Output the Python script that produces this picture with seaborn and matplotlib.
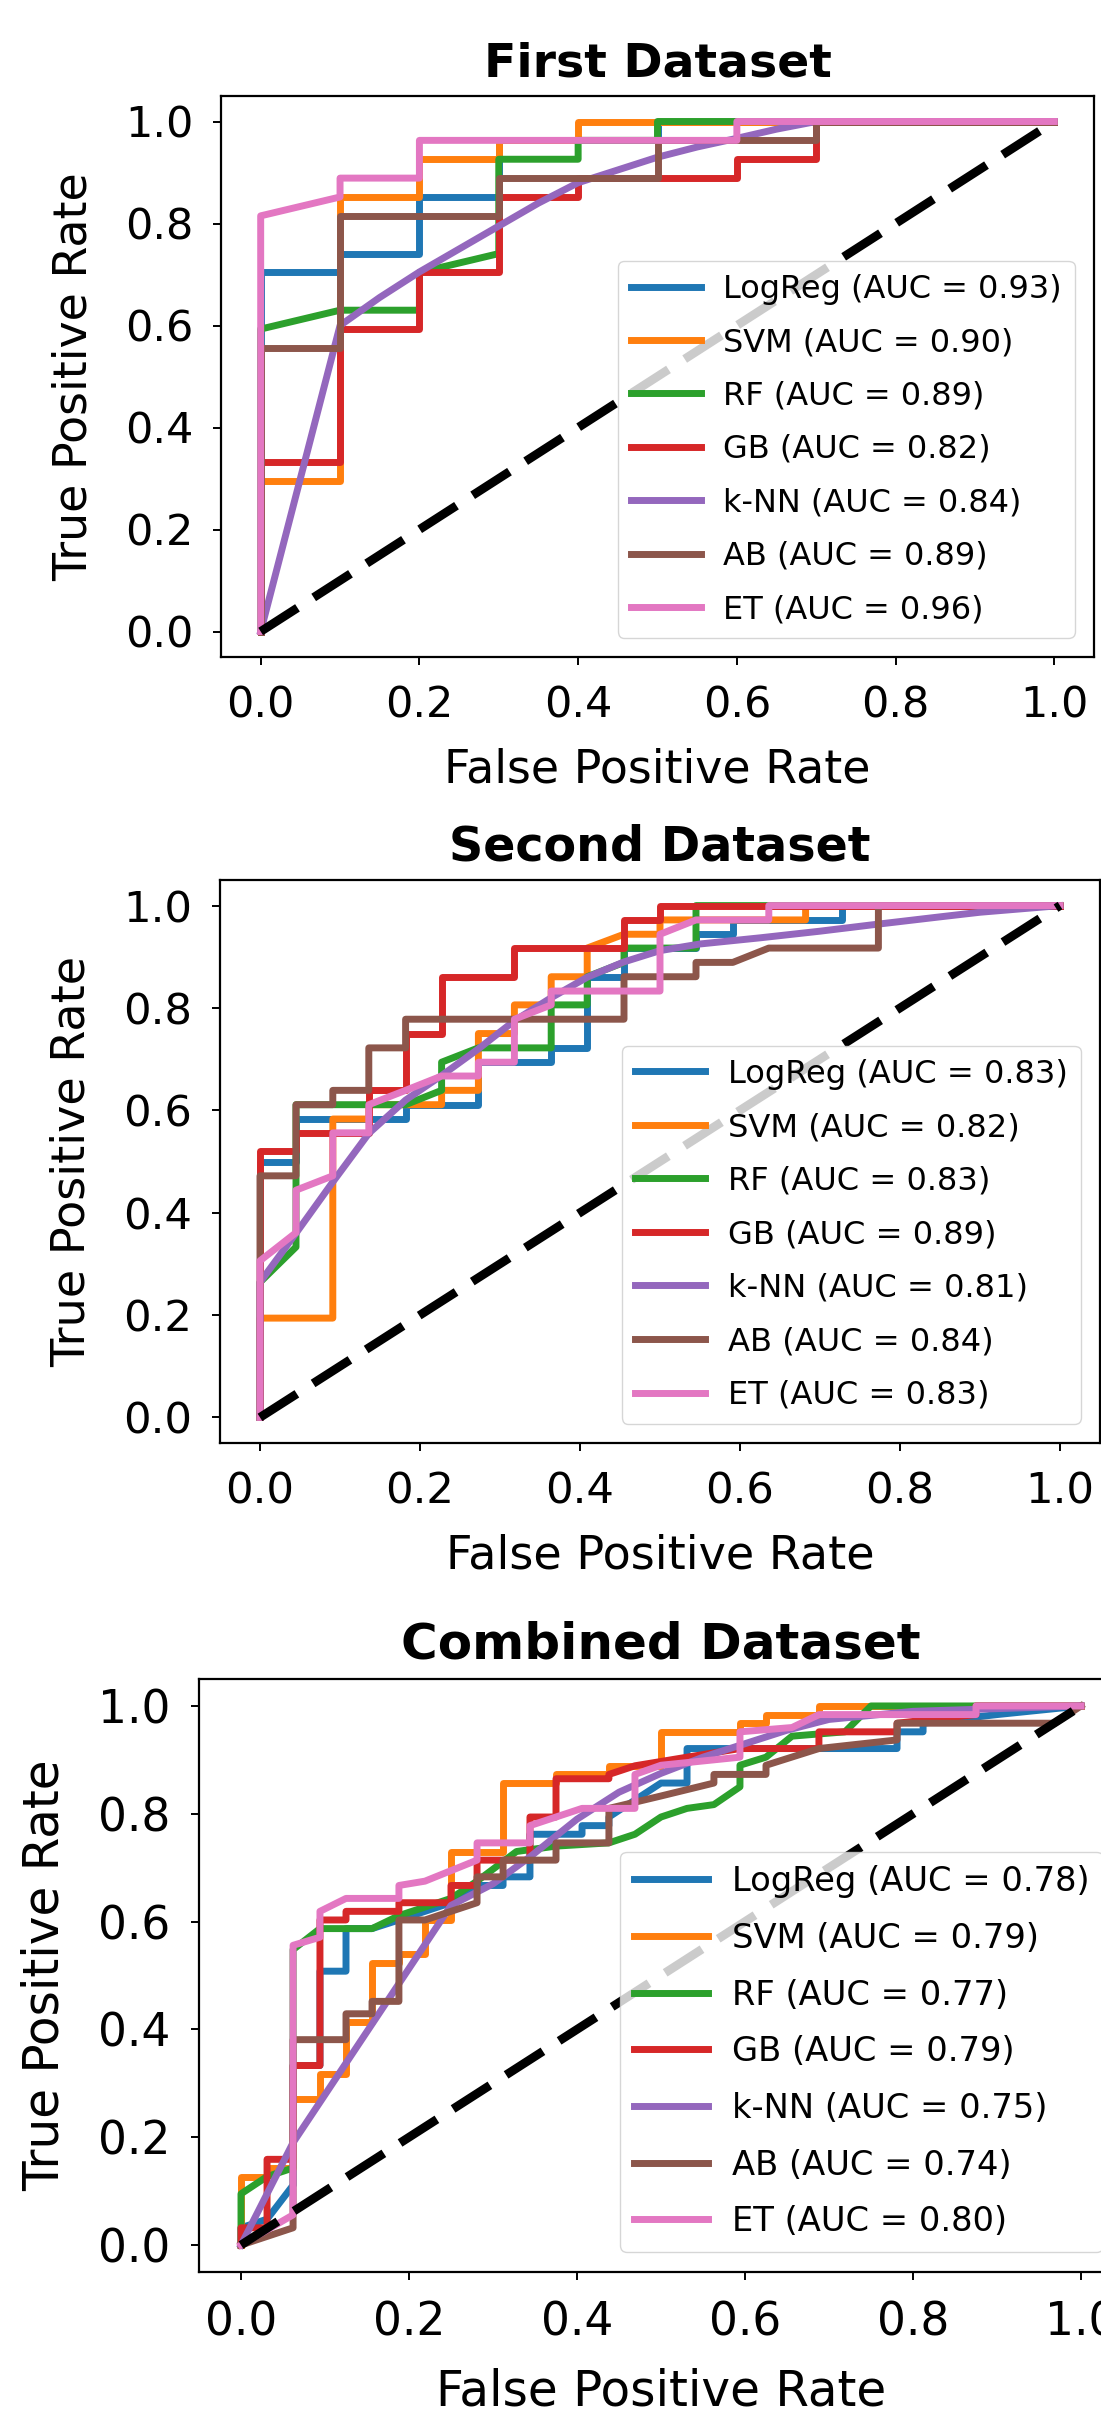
import matplotlib
matplotlib.use("Agg")
import matplotlib.pyplot as plt
import seaborn as sns
import pandas as pd

models = ["LogReg", "SVM", "RF", "GB", "k-NN", "AB", "ET"]
titles = ["First Dataset", "Second Dataset", "Combined Dataset"]

auc_first = [0.93, 0.90, 0.89, 0.82, 0.84, 0.89, 0.96]
auc_second = [0.83, 0.82, 0.83, 0.89, 0.81, 0.84, 0.83]
auc_combined = [0.78, 0.79, 0.77, 0.79, 0.75, 0.74, 0.80]

# (fpr, tpr)
first_curves = {
    "LogReg": ([0, 0, 0.1, 0.1, 0.2, 0.2, 0.3, 0.3, 0.5, 0.5, 1],
               [0, 0.704, 0.704, 0.741, 0.741, 0.852, 0.852, 0.963, 0.963, 1, 1]),
    "SVM": ([0, 0, 0.1, 0.1, 0.2, 0.2, 0.3, 0.3, 0.4, 0.4, 1],
            [0, 0.296, 0.296, 0.852, 0.852, 0.926, 0.926, 0.963, 0.963, 1, 1]),
    "RF": ([0, 0, 0.1, 0.2, 0.2, 0.3, 0.3, 0.4, 0.4, 0.5, 0.5, 1],
           [0, 0.593, 0.63, 0.63, 0.704, 0.741, 0.926, 0.926, 0.963, 0.963, 1, 1]),
    "GB": ([0, 0, 0.1, 0.1, 0.2, 0.2, 0.3, 0.3, 0.4, 0.4, 0.6, 0.6, 0.7, 0.7, 1],
           [0, 0.333, 0.333, 0.593, 0.593, 0.704, 0.704, 0.852, 0.852, 0.889, 0.889, 0.926, 0.926, 1, 1]),
    "k-NN": ([0, 0.1, 0.15, 0.2, 0.25, 0.3, 0.35, 0.4, 0.45, 0.5, 0.55, 0.6, 0.65, 0.7, 1],
             [0, 0.6, 0.655, 0.705, 0.75, 0.795, 0.84, 0.88, 0.905, 0.93, 0.95, 0.967, 0.985, 1, 1]),
    "AB": ([0, 0, 0.1, 0.1, 0.3, 0.3, 0.5, 0.5, 0.7, 0.7, 1],
           [0, 0.556, 0.556, 0.815, 0.815, 0.889, 0.889, 0.963, 0.963, 1, 1]),
    "ET": ([0, 0, 0.1, 0.1, 0.2, 0.2, 0.6, 0.6, 1],
           [0, 0.815, 0.852, 0.889, 0.889, 0.963, 0.963, 1, 1]),
}

second_curves = {
    "LogReg": ([0, 0, 0.045, 0.045, 0.182, 0.182, 0.273, 0.273, 0.364, 0.364, 0.409, 0.409, 0.455, 0.455,
                0.545, 0.545, 0.591, 0.591, 0.727, 0.727, 1],
               [0, 0.5, 0.5, 0.583, 0.583, 0.611, 0.611, 0.694, 0.694, 0.722, 0.722, 0.861, 0.861, 0.917,
                0.917, 0.944, 0.944, 0.972, 0.972, 1, 1]),
    "SVM": ([0, 0, 0.091, 0.091, 0.136, 0.136, 0.227, 0.227, 0.273, 0.273, 0.318, 0.318, 0.364, 0.364,
             0.409, 0.409, 0.455, 0.5, 0.5, 0.682, 0.682, 1],
            [0, 0.194, 0.194, 0.583, 0.583, 0.611, 0.611, 0.639, 0.639, 0.75, 0.75, 0.806, 0.806, 0.861,
             0.861, 0.917, 0.944, 0.944, 0.972, 0.972, 1, 1]),
    "RF": ([0, 0, 0.045, 0.045, 0.136, 0.182, 0.227, 0.227, 0.273, 0.364, 0.364, 0.409, 0.409, 0.455,
            0.455, 0.545, 0.545, 1],
           [0, 0.264, 0.333, 0.611, 0.611, 0.611, 0.639, 0.694, 0.722, 0.722, 0.806, 0.806, 0.861, 0.889,
            0.917, 0.917, 1, 1]),
    "GB": ([0, 0, 0.045, 0.045, 0.136, 0.136, 0.182, 0.182, 0.227, 0.227, 0.318, 0.318, 0.455, 0.455,
            0.5, 0.5, 1],
           [0, 0.52, 0.52, 0.556, 0.556, 0.639, 0.639, 0.75, 0.75, 0.861, 0.861, 0.917, 0.917, 0.972,
            0.972, 1, 1]),
    "k-NN": ([0, 0, 0.045, 0.091, 0.136, 0.182, 0.227, 0.273, 0.318, 0.364, 0.409, 0.455, 0.5, 0.55,
              0.625, 0.7, 0.763, 0.85, 0.9, 1],
             [0, 0.264, 0.36, 0.46, 0.555, 0.62, 0.668, 0.72, 0.775, 0.82, 0.86, 0.89, 0.912, 0.925,
              0.937, 0.95, 0.962, 0.978, 0.987, 1]),
    "AB": ([0, 0, 0.045, 0.045, 0.091, 0.091, 0.136, 0.136, 0.182, 0.182, 0.455, 0.455, 0.545, 0.545,
            0.591, 0.636, 0.773, 0.773, 1],
           [0, 0.472, 0.472, 0.611, 0.611, 0.639, 0.639, 0.722, 0.722, 0.778, 0.778, 0.861, 0.861, 0.889,
            0.889, 0.917, 0.917, 1, 1]),
    "ET": ([0, 0, 0.045, 0.045, 0.091, 0.091, 0.136, 0.136, 0.182, 0.227, 0.273, 0.273, 0.318, 0.318,
            0.364, 0.364, 0.5, 0.5, 0.545, 0.636, 0.636, 1],
           [0, 0.306, 0.361, 0.444, 0.472, 0.556, 0.556, 0.611, 0.639, 0.667, 0.667, 0.694, 0.694, 0.778,
            0.806, 0.833, 0.833, 0.944, 0.972, 0.972, 1, 1]),
}

combined_curves = {
    "LogReg": ([0, 0, 0.031, 0.062, 0.062, 0.094, 0.094, 0.125, 0.125, 0.156, 0.188, 0.25, 0.281, 0.312,
                0.312, 0.344, 0.344, 0.406, 0.406, 0.438, 0.438, 0.5, 0.531, 0.531, 0.781, 0.781, 0.812,
                0.812, 0.9, 1],
               [0, 0.032, 0.048, 0.111, 0.333, 0.333, 0.508, 0.508, 0.587, 0.587, 0.603, 0.635, 0.667,
                0.667, 0.683, 0.683, 0.762, 0.762, 0.778, 0.778, 0.794, 0.857, 0.857, 0.921, 0.921, 0.952,
                0.952, 0.968, 0.984, 1]),
    "SVM": ([0, 0, 0.031, 0.031, 0.062, 0.062, 0.094, 0.094, 0.125, 0.125, 0.156, 0.156, 0.188, 0.188,
             0.219, 0.219, 0.25, 0.25, 0.312, 0.312, 0.375, 0.375, 0.438, 0.438, 0.5, 0.5, 0.594, 0.594,
             0.625, 0.625, 0.688, 0.688, 1],
            [0, 0.127, 0.127, 0.143, 0.143, 0.27, 0.27, 0.317, 0.317, 0.413, 0.413, 0.524, 0.524, 0.54,
             0.54, 0.603, 0.603, 0.73, 0.73, 0.857, 0.857, 0.873, 0.873, 0.889, 0.889, 0.952, 0.952, 0.968,
             0.968, 0.984, 0.984, 1, 1]),
    "RF": ([0, 0, 0.031, 0.062, 0.062, 0.094, 0.156, 0.188, 0.25, 0.281, 0.328, 0.375, 0.438, 0.469,
            0.5, 0.531, 0.563, 0.594, 0.594, 0.625, 0.656, 0.719, 0.75, 1],
           [0, 0.095, 0.127, 0.143, 0.548, 0.587, 0.587, 0.611, 0.643, 0.675, 0.73, 0.74, 0.746, 0.762,
            0.794, 0.81, 0.817, 0.85, 0.89, 0.905, 0.944, 0.952, 1, 1]),
    "GB": ([0, 0, 0.031, 0.031, 0.062, 0.062, 0.094, 0.094, 0.125, 0.125, 0.188, 0.188, 0.25, 0.25,
            0.281, 0.281, 0.344, 0.344, 0.375, 0.375, 0.438, 0.438, 0.469, 0.531, 0.594, 0.688, 0.688,
            0.781, 0.781, 0.875, 0.875, 1],
           [0, 0.032, 0.032, 0.159, 0.159, 0.333, 0.333, 0.603, 0.603, 0.619, 0.619, 0.635, 0.635, 0.667,
            0.667, 0.714, 0.714, 0.794, 0.794, 0.865, 0.865, 0.873, 0.889, 0.905, 0.921, 0.921, 0.952,
            0.952, 0.968, 0.984, 1, 1]),
    "k-NN": ([0, 0.062, 0.25, 0.3, 0.344, 0.4, 0.45, 0.5, 0.55, 0.6, 0.65, 0.7, 0.8, 1],
             [0, 0.19, 0.63, 0.67, 0.72, 0.79, 0.84, 0.875, 0.905, 0.93, 0.955, 0.975, 0.99, 1]),
    "AB": ([0, 0.031, 0.062, 0.062, 0.125, 0.125, 0.156, 0.156, 0.188, 0.188, 0.219, 0.281, 0.281, 0.312,
            0.312, 0.375, 0.375, 0.438, 0.438, 0.5, 0.563, 0.563, 0.625, 0.625, 0.688, 0.781, 0.781,
            0.969, 1],
           [0, 0.016, 0.032, 0.381, 0.381, 0.429, 0.429, 0.452, 0.452, 0.603, 0.603, 0.635, 0.683, 0.683,
            0.714, 0.714, 0.746, 0.746, 0.81, 0.833, 0.857, 0.873, 0.873, 0.89, 0.921, 0.937, 0.968,
            0.968, 1]),
    "ET": ([0, 0.062, 0.062, 0.094, 0.094, 0.125, 0.188, 0.188, 0.219, 0.281, 0.281, 0.344, 0.344, 0.406,
            0.469, 0.469, 0.5, 0.594, 0.594, 0.656, 0.688, 0.875, 0.875, 1],
           [0, 0.056, 0.556, 0.571, 0.619, 0.643, 0.643, 0.667, 0.675, 0.714, 0.746, 0.746, 0.778, 0.81,
            0.81, 0.873, 0.89, 0.905, 0.952, 0.96, 0.984, 0.984, 1, 1]),
}

# axes boxes in pixels: left, top, right, bottom (the last panel runs past the right edge)
boxes = [(221, 96, 1094, 657), (220, 880, 1100, 1443), (199, 1679, 1123, 2272)]

W, H = 1101, 2417
fig = plt.figure(figsize=(W / 100, H / 100), dpi=100)
colors = sns.color_palette("tab10")[:7]

panels = [(first_curves, auc_first), (second_curves, auc_second), (combined_curves, auc_combined)]
for i, (curves, aucs) in enumerate(panels):
    l, t, r, b = boxes[i]
    ax = fig.add_axes([l / W, 1 - b / H, (r - l) / W, (b - t) / H])
    s = (r - l) / 873
    for m, auc, c in zip(models, aucs, colors):
        fpr, tpr = curves[m]
        df = pd.DataFrame({"fpr": fpr, "tpr": tpr})
        sns.lineplot(data=df, x="fpr", y="tpr", sort=False, estimator=None, color=c,
                     linewidth=5, label=f"{m} (AUC = {auc:.2f})", ax=ax)
    ax.plot([0, 1], [0, 1], color="k", linestyle=(0, (5.0, 2.2)), linewidth=6.3)
    ax.set_xlim(-0.05, 1.05)
    ax.set_ylim(-0.05, 1.05)
    ax.set_xticks([0, 0.2, 0.4, 0.6, 0.8, 1.0])
    ax.set_yticks([0, 0.2, 0.4, 0.6, 0.8, 1.0])
    ax.set_title(titles[i], fontsize=34 * s, fontweight="bold", pad=14 * s)
    ax.set_xlabel("False Positive Rate", fontsize=33 * s, labelpad=15 * s)
    ax.set_ylabel("True Positive Rate", fontsize=33 * s, labelpad=20 * s)
    ax.tick_params(labelsize=31 * s, length=6, width=1.4, pad=14 * s)
    for sp in ax.spines.values():
        sp.set_linewidth(1.6)
    ax.legend(loc="lower right", fontsize=23 * s, handlelength=2.2, handletextpad=0.7,
              labelspacing=0.7, borderaxespad=0.6)

fig.savefig("out.png", dpi=100)
